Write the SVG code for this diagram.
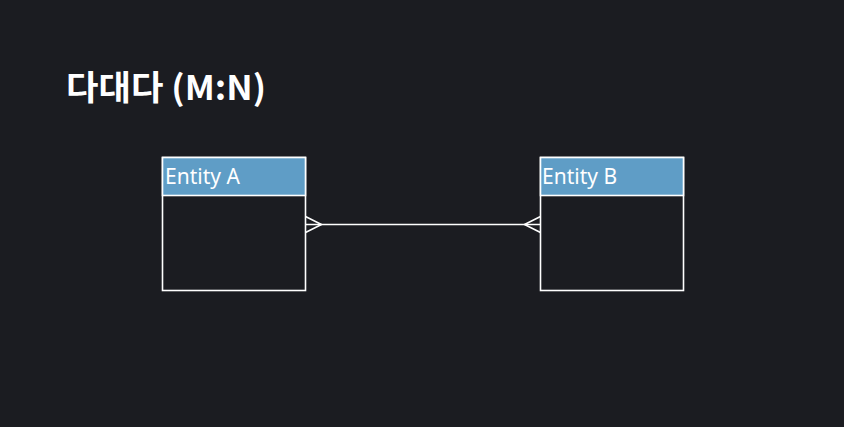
<svg xmlns="http://www.w3.org/2000/svg" width="844" height="427" viewBox="0 0 844 427">
<style>
.box{fill:#1b1c21;stroke:#ffffff;stroke-width:1.6}
.hdr{fill:#5f9dc6;stroke:#ffffff;stroke-width:1.6}
.lbl{font-family:"Noto Sans","Liberation Sans",sans-serif;font-size:21px;fill:#ffffff}
.conn{fill:none;stroke:#ffffff;stroke-width:1.6}
</style>
<rect width="844" height="427" fill="#1b1c21"/>
<text x="66" y="100" font-family="'Noto Sans CJK KR','Noto Sans',sans-serif" font-weight="bold" font-size="34" textLength="200" lengthAdjust="spacingAndGlyphs" fill="#ffffff">다대다 (M:N)</text>
<g id="entityA">
<rect class="box" x="162.5" y="157.5" width="143" height="133"/>
<rect class="hdr" x="162.5" y="157.5" width="143" height="38"/>
<text class="lbl" x="165" y="184">Entity A</text>
</g>
<g id="entityB">
<rect class="box" x="540.5" y="157.5" width="143" height="133"/>
<rect class="hdr" x="540.5" y="157.5" width="143" height="38"/>
<text class="lbl" x="542" y="184">Entity B</text>
</g>
<g id="connectors">
<line class="conn" x1="305.5" y1="224.5" x2="540.5" y2="224.5"/>
<polyline class="conn" points="305.5,216.5 321.5,224.5 305.5,232.5"/>
<polyline class="conn" points="540.5,216.5 524.5,224.5 540.5,232.5"/>
</g>
</svg>
